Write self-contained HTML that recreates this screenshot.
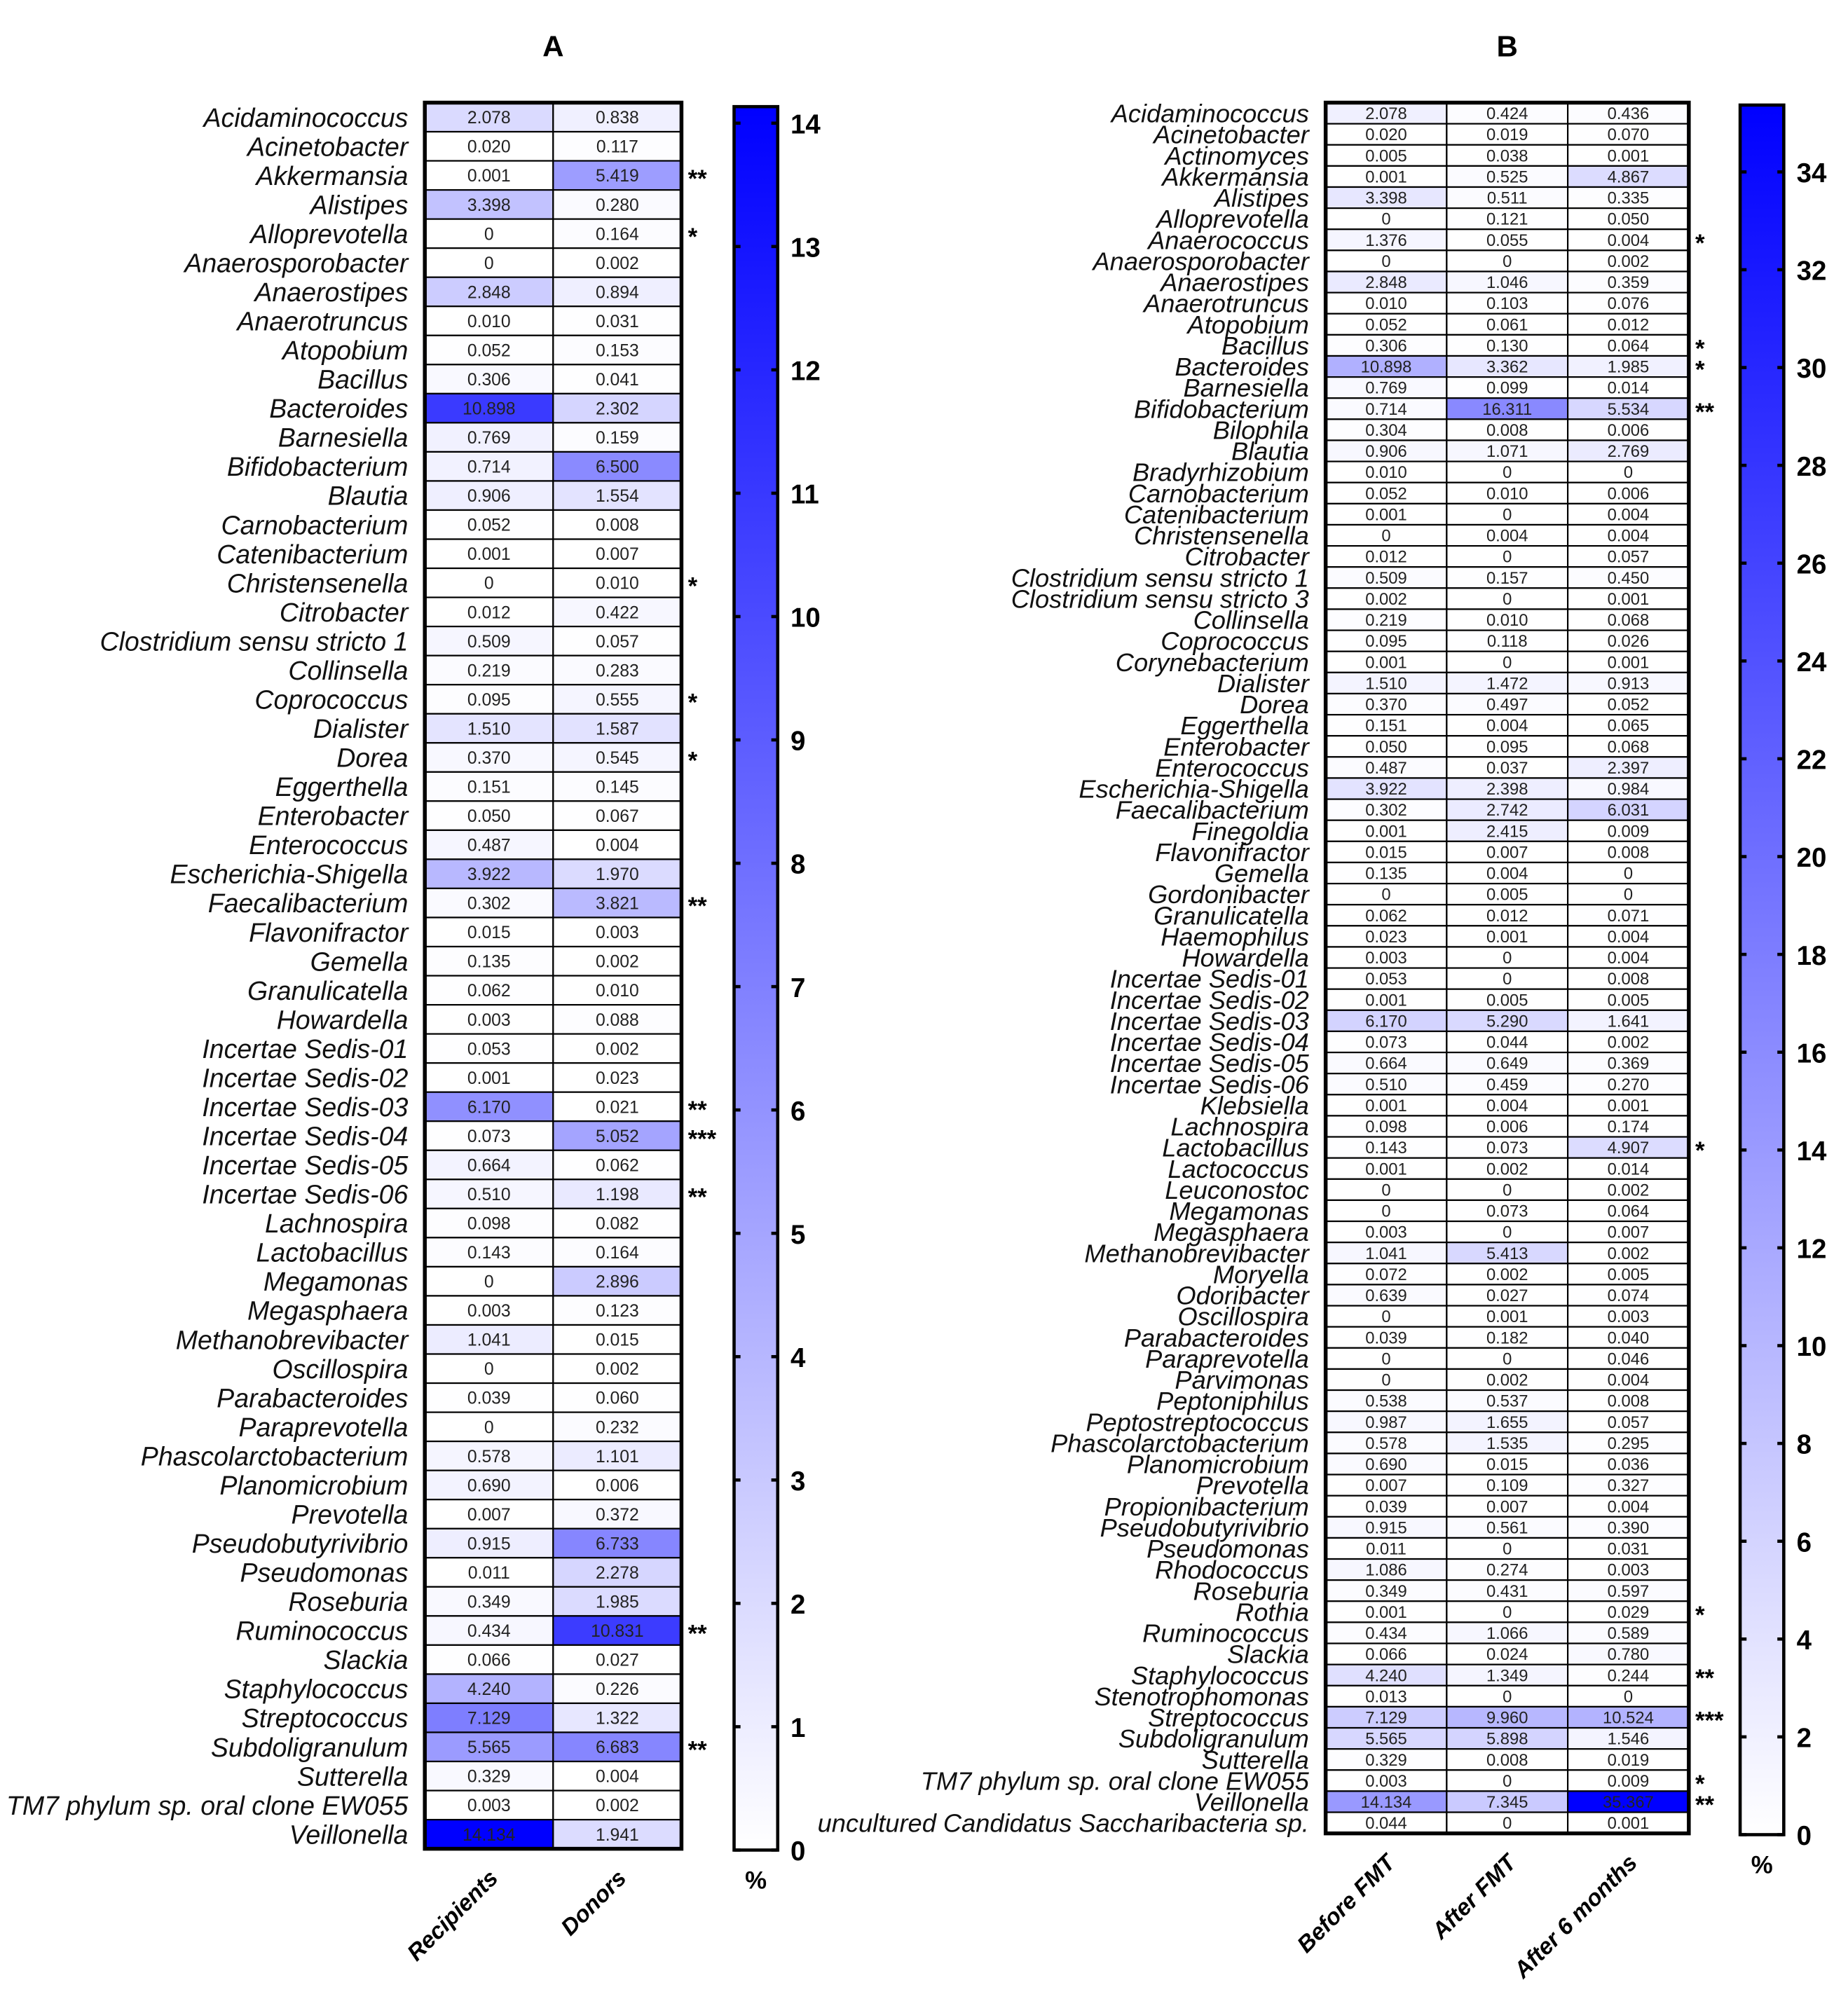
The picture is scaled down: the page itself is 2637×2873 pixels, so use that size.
<!DOCTYPE html>
<html><head><meta charset="utf-8">
<style>
html,body{margin:0;padding:0;background:#fff;}
svg{display:block;font-family:"Liberation Sans",Arial,sans-serif;}
</style></head>
<body>
<svg id="chart" width="2637" height="2873" viewBox="0 0 1440 1569" xmlns="http://www.w3.org/2000/svg">
<defs>
<linearGradient id="cbar" x1="0" y1="1" x2="0" y2="0">
<stop offset="0" stop-color="#ffffff"/>
<stop offset="1" stop-color="#0000ff"/>
</linearGradient>
</defs>
<g id="panelA"></g>
<g id="panelB"></g>
</svg>
<script>
// ---------- Panel A data ----------
const labelsA = ["Acidaminococcus","Acinetobacter","Akkermansia","Alistipes","Alloprevotella","Anaerosporobacter","Anaerostipes","Anaerotruncus","Atopobium","Bacillus","Bacteroides","Barnesiella","Bifidobacterium","Blautia","Carnobacterium","Catenibacterium","Christensenella","Citrobacter","Clostridium sensu stricto 1","Collinsella","Coprococcus","Dialister","Dorea","Eggerthella","Enterobacter","Enterococcus","Escherichia-Shigella","Faecalibacterium","Flavonifractor","Gemella","Granulicatella","Howardella","Incertae Sedis-01","Incertae Sedis-02","Incertae Sedis-03","Incertae Sedis-04","Incertae Sedis-05","Incertae Sedis-06","Lachnospira","Lactobacillus","Megamonas","Megasphaera","Methanobrevibacter","Oscillospira","Parabacteroides","Paraprevotella","Phascolarctobacterium","Planomicrobium","Prevotella","Pseudobutyrivibrio","Pseudomonas","Roseburia","Ruminococcus","Slackia","Staphylococcus","Streptococcus","Subdoligranulum","Sutterella","TM7 phylum sp. oral clone EW055","Veillonella"];
const recipientsA = ["2.078","0.020","0.001","3.398","0","0","2.848","0.010","0.052","0.306","10.898","0.769","0.714","0.906","0.052","0.001","0","0.012","0.509","0.219","0.095","1.510","0.370","0.151","0.050","0.487","3.922","0.302","0.015","0.135","0.062","0.003","0.053","0.001","6.170","0.073","0.664","0.510","0.098","0.143","0","0.003","1.041","0","0.039","0","0.578","0.690","0.007","0.915","0.011","0.349","0.434","0.066","4.240","7.129","5.565","0.329","0.003","14.134"];
const donorsA = ["0.838","0.117","5.419","0.280","0.164","0.002","0.894","0.031","0.153","0.041","2.302","0.159","6.500","1.554","0.008","0.007","0.010","0.422","0.057","0.283","0.555","1.587","0.545","0.145","0.067","0.004","1.970","3.821","0.003","0.002","0.010","0.088","0.002","0.023","0.021","5.052","0.062","1.198","0.082","0.164","2.896","0.123","0.015","0.002","0.060","0.232","1.101","0.006","0.372","6.733","2.278","1.985","10.831","0.027","0.226","1.322","6.683","0.004","0.002","1.941"];
const sigA = ["","","**","","*","","","","","","","","","","","","*","","","","*","","*","","","","","**","","","","","","","**","***","","**","","","","","","","","","","","","","","","**","","","","**","","",""];
const colsA = ["Recipients","Donors"];
const ticksA = [0,1,2,3,4,5,6,7,8,9,10,11,12,13,14];

// ---------- Panel B data ----------
const labelsB = ["Acidaminococcus","Acinetobacter","Actinomyces","Akkermansia","Alistipes","Alloprevotella","Anaerococcus","Anaerosporobacter","Anaerostipes","Anaerotruncus","Atopobium","Bacillus","Bacteroides","Barnesiella","Bifidobacterium","Bilophila","Blautia","Bradyrhizobium","Carnobacterium","Catenibacterium","Christensenella","Citrobacter","Clostridium sensu stricto 1","Clostridium sensu stricto 3","Collinsella","Coprococcus","Corynebacterium","Dialister","Dorea","Eggerthella","Enterobacter","Enterococcus","Escherichia-Shigella","Faecalibacterium","Finegoldia","Flavonifractor","Gemella","Gordonibacter","Granulicatella","Haemophilus","Howardella","Incertae Sedis-01","Incertae Sedis-02","Incertae Sedis-03","Incertae Sedis-04","Incertae Sedis-05","Incertae Sedis-06","Klebsiella","Lachnospira","Lactobacillus","Lactococcus","Leuconostoc","Megamonas","Megasphaera","Methanobrevibacter","Moryella","Odoribacter","Oscillospira","Parabacteroides","Paraprevotella","Parvimonas","Peptoniphilus","Peptostreptococcus","Phascolarctobacterium","Planomicrobium","Prevotella","Propionibacterium","Pseudobutyrivibrio","Pseudomonas","Rhodococcus","Roseburia","Rothia","Ruminococcus","Slackia","Staphylococcus","Stenotrophomonas","Streptococcus","Subdoligranulum","Sutterella","TM7 phylum sp. oral clone EW055","Veillonella","uncultured Candidatus Saccharibacteria sp."];
const beforeB = ["2.078","0.020","0.005","0.001","3.398","0","1.376","0","2.848","0.010","0.052","0.306","10.898","0.769","0.714","0.304","0.906","0.010","0.052","0.001","0","0.012","0.509","0.002","0.219","0.095","0.001","1.510","0.370","0.151","0.050","0.487","3.922","0.302","0.001","0.015","0.135","0","0.062","0.023","0.003","0.053","0.001","6.170","0.073","0.664","0.510","0.001","0.098","0.143","0.001","0","0","0.003","1.041","0.072","0.639","0","0.039","0","0","0.538","0.987","0.578","0.690","0.007","0.039","0.915","0.011","1.086","0.349","0.001","0.434","0.066","4.240","0.013","7.129","5.565","0.329","0.003","14.134","0.044"];
const afterB = ["0.424","0.019","0.038","0.525","0.511","0.121","0.055","0","1.046","0.103","0.061","0.130","3.362","0.099","16.311","0.008","1.071","0","0.010","0","0.004","0","0.157","0","0.010","0.118","0","1.472","0.497","0.004","0.095","0.037","2.398","2.742","2.415","0.007","0.004","0.005","0.012","0.001","0","0","0.005","5.290","0.044","0.649","0.459","0.004","0.006","0.073","0.002","0","0.073","0","5.413","0.002","0.027","0.001","0.182","0","0.002","0.537","1.655","1.535","0.015","0.109","0.007","0.561","0","0.274","0.431","0","1.066","0.024","1.349","0","9.960","5.898","0.008","0","7.345","0"];
const after6B = ["0.436","0.070","0.001","4.867","0.335","0.050","0.004","0.002","0.359","0.076","0.012","0.064","1.985","0.014","5.534","0.006","2.769","0","0.006","0.004","0.004","0.057","0.450","0.001","0.068","0.026","0.001","0.913","0.052","0.065","0.068","2.397","0.984","6.031","0.009","0.008","0","0","0.071","0.004","0.004","0.008","0.005","1.641","0.002","0.369","0.270","0.001","0.174","4.907","0.014","0.002","0.064","0.007","0.002","0.005","0.074","0.003","0.040","0.046","0.004","0.008","0.057","0.295","0.036","0.327","0.004","0.390","0.031","0.003","0.597","0.029","0.589","0.780","0.244","0","10.524","1.546","0.019","0.009","35.367","0.001"];
const sigB = ["","","","","","","*","","","","","*","*","","**","","","","","","","","","","","","","","","","","","","","","","","","","","","","","","","","","","","*","","","","","","","","","","","","","","","","","","","","","","*","","","**","","***","","","*","**",""];
const colsB = ["Before FMT","After FMT","After 6 months"];
const ticksB = [0,2,4,6,8,10,12,14,16,18,20,22,24,26,28,30,32,34];

const NS = "http://www.w3.org/2000/svg";
function mk(tag, attrs, parent, text){
  const e = document.createElementNS(NS, tag);
  for (const k in attrs) e.setAttribute(k, attrs[k]);
  if (text !== undefined) e.textContent = text;
  parent.appendChild(e);
  return e;
}
function colorFor(v, max){
  const t = Math.max(0, Math.min(1, v / max));
  const c = Math.round(255 * (1 - t));
  return "rgb(" + c + "," + c + ",255)";
}

function drawPanel(g, cfg){
  const n = cfg.labels.length;
  const rowH = (cfg.bottom - cfg.top) / n;
  const colW = (cfg.right - cfg.left) / cfg.series.length;
  const yRow = i => cfg.top + i * rowH;
  const xCol = j => cfg.left + j * colW;
  const vmax = cfg.vmax;
  const title = mk("text", {x: (cfg.left + cfg.right)/2, y: 44, "font-size": 23, "font-weight": "bold", "text-anchor": "middle"}, g, cfg.title);
  
  
  for (let i = 0; i < n; i++){
    const lab = mk("text", {x: cfg.left - 13, y: yRow(i) + rowH/2 + cfg.lfs*0.36, "font-size": cfg.lfs, "font-style": "italic", "text-anchor": "end", fill: "#111"}, g, cfg.labels[i]);
    
    
    for (let j = 0; j < cfg.series.length; j++){
      const s = cfg.series[j][i];
      const cell = mk("rect", {x: xCol(j), y: yRow(i), width: colW, height: rowH, fill: colorFor(parseFloat(s), vmax), stroke: "#000", "stroke-width": 1.2}, g);
      
      
      const vt = mk("text", {x: xCol(j) + colW/2, y: yRow(i) + rowH/2 + cfg.vfs*0.36, "font-size": cfg.vfs, "text-anchor": "middle", fill: "#222"}, g, s);
      
      
    }
    if (cfg.sig[i]){
      const st = mk("text", {x: cfg.right + 5, y: yRow(i) + rowH/2 + 9, "font-size": 19, "font-weight": "bold"}, g, cfg.sig[i]);
      
      
    }
  }
  const border = mk("rect", {x: cfg.left, y: cfg.top, width: cfg.right - cfg.left, height: cfg.bottom - cfg.top, fill: "none", stroke: "#000", "stroke-width": 3}, g);
  
  
  for (let j = 0; j < cfg.cols.length; j++){
    const cx = xCol(j) + colW/2 + 8, cy = cfg.bottom + 24;
    const cl = mk("text", {x: cx, y: cy, "font-size": 18, "font-weight": "bold", "font-style": "italic", "text-anchor": "end", transform: "rotate(-45 " + cx + " " + cy + ")"}, g, cfg.cols[j]);
    
    
  }
  const cb = cfg.cb;
  const yVal = v => cb.zeroY - (v / cb.maxTick) * (cb.zeroY - cb.maxTickY);
  const topY = yVal(vmax);
  const bar = mk("rect", {x: cb.x, y: topY, width: cb.w, height: cb.zeroY - topY, fill: "url(#cbar)", stroke: "#000", "stroke-width": 2.5}, g);
  
  
  for (const t of cfg.ticks){
    const y = yVal(t);
    mk("line", {x1: cb.x, x2: cb.x + 5, y1: y, y2: y, stroke: "#000", "stroke-width": 2.5}, g);
    mk("line", {x1: cb.x + cb.w - 5, x2: cb.x + cb.w, y1: y, y2: y, stroke: "#000", "stroke-width": 2.5}, g);
    const tl = mk("text", {x: cb.x + cb.w + 10, y: y + 8, "font-size": 21, "font-weight": "bold"}, g, String(t));
    
    
  }
  const pct = mk("text", {x: cb.x + cb.w/2, y: cb.zeroY + 30, "font-size": 19, "font-weight": "bold", "text-anchor": "middle"}, g, "%");
  
  
}

drawPanel(document.getElementById("panelA"), {
  title: "A", labels: labelsA, series: [recipientsA, donorsA], sig: sigA, cols: colsA, ticks: ticksA,
  left: 331, right: 531, top: 80, bottom: 1441, vmax: 14.134, lfs: 20.5, vfs: 13.5,
  cb: {x: 572, w: 34, zeroY: 1442, maxTick: 14, maxTickY: 96}
});
drawPanel(document.getElementById("panelB"), {
  title: "B", labels: labelsB, series: [beforeB, afterB, after6B], sig: sigB, cols: colsB, ticks: ticksB,
  left: 1033, right: 1316, top: 80, bottom: 1429, vmax: 35.367, lfs: 19.8, vfs: 13,
  cb: {x: 1356, w: 34, zeroY: 1430, maxTick: 34, maxTickY: 134}
});
</script>
</body></html>
